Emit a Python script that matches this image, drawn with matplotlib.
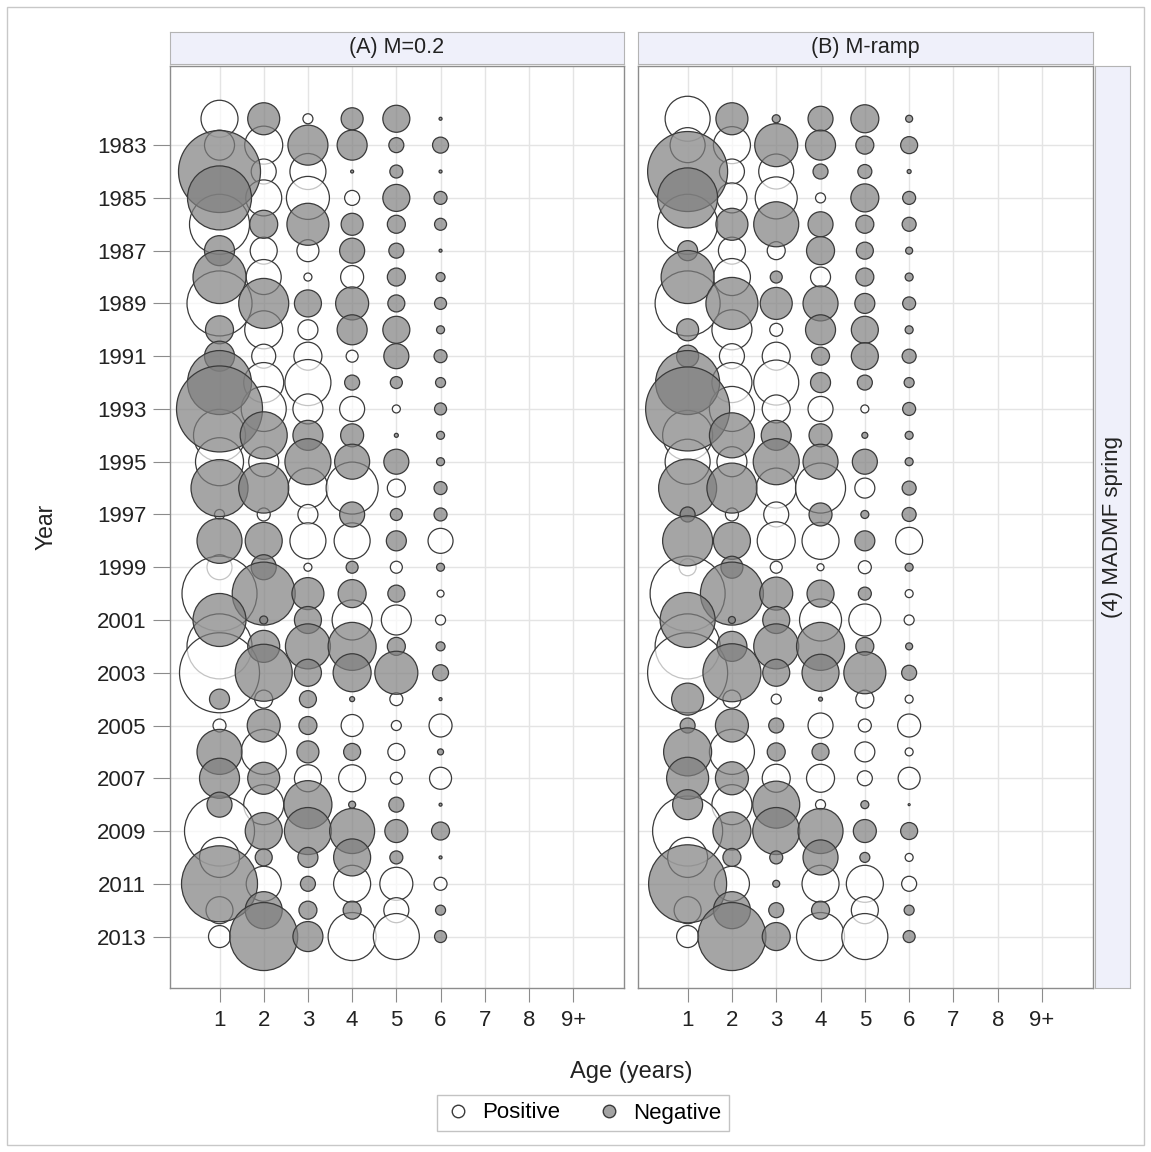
import matplotlib

matplotlib.use("Agg")
import matplotlib.pyplot as plt
import numpy as np
from matplotlib.lines import Line2D
from matplotlib.patches import Rectangle

plt.rcParams["font.family"] = ["Liberation Sans", "DejaVu Sans"]

years = list(range(1982, 2014))
ages = [1, 2, 3, 4, 5, 6]
age_ticks = [1, 2, 3, 4, 5, 6, 7, 8, 9]
age_labels = ["1", "2", "3", "4", "5", "6", "7", "8", "9+"]
year_ticks = list(range(1983, 2014, 2))

panel_titles = ["(A) M=0.2", "(B) M-ramp"]
row_title = "(4) MADMF spring"

# residuals by year (rows) and age 1..6 (columns); sign picks the fill
resid_a = [
    [1.85, -1.6, 0.5, -1.1, -1.35, -0.15],
    [1.5, 1.9, -2.0, -1.5, -0.75, -0.8],
    [-4.1, 1.25, 1.8, -0.15, -0.65, -0.15],
    [-3.2, 1.8, 2.15, 0.75, -1.35, -0.65],
    [3.0, -1.4, -2.1, -1.1, -0.9, -0.6],
    [-1.5, 1.35, 1.1, -1.25, -0.75, -0.15],
    [-2.65, 1.75, 0.4, 1.15, -0.9, -0.45],
    [3.25, -2.5, -1.35, -1.65, -0.85, -0.6],
    [-1.4, 1.9, 1.0, -1.5, -1.35, -0.4],
    [-1.5, 1.2, 1.4, 0.6, -1.25, -0.65],
    [-3.2, 2.0, 2.3, -0.75, -0.6, -0.5],
    [-4.3, 2.25, 1.5, 1.25, 0.4, -0.6],
    [2.6, -2.35, -1.5, -1.15, -0.2, -0.4],
    [2.4, 1.5, -2.3, -1.75, -1.25, -0.4],
    [-2.85, -2.5, 2.0, 2.6, 0.9, -0.65],
    [0.5, 0.65, 1.0, -1.25, -0.6, -0.65],
    [-2.25, -1.85, 1.8, 1.8, -1.0, 1.25],
    [1.25, -1.25, 0.4, -0.6, 0.6, -0.4],
    [3.75, -3.15, -1.6, -1.4, -0.85, 0.35],
    [-2.65, -0.4, -1.35, 2.0, 1.5, 0.5],
    [3.25, -1.6, -2.25, -2.4, -0.9, -0.45],
    [4.0, -2.85, -1.35, -1.9, -2.15, -0.8],
    [-1.0, 0.9, -0.85, -0.25, 0.65, -0.15],
    [0.65, -1.65, -0.9, 1.1, 0.5, 1.15],
    [-2.25, 2.25, -1.1, -0.85, 0.85, -0.3],
    [-2.0, -1.6, 1.35, 1.35, 0.6, 1.1],
    [-1.25, 2.0, -2.4, -0.35, -0.75, -0.15],
    [3.5, -1.85, -2.35, -2.25, -1.15, -0.9],
    [2.0, -0.85, -1.0, -1.85, -0.65, -0.15],
    [-3.8, 1.75, -0.75, 1.85, 1.65, 0.65],
    [1.35, -1.85, -0.9, -0.9, 1.25, -0.5],
    [1.1, -3.4, -1.5, 2.4, 2.3, -0.6],
]

resid_b = [
    [2.25, -1.6, -0.4, -1.25, -1.4, -0.35],
    [1.75, 1.85, -2.15, -1.5, -0.9, -0.85],
    [-4.0, 1.25, 1.75, -0.75, -0.7, -0.2],
    [-3.0, 1.5, 2.1, 0.5, -1.4, -0.65],
    [3.0, -1.6, -2.25, -1.25, -0.9, -0.7],
    [-1.0, 1.35, 0.9, -1.4, -0.85, -0.35],
    [-2.65, 1.85, -0.6, 1.0, -0.9, -0.4],
    [3.25, -2.6, -1.6, -1.75, -1.0, -0.65],
    [-1.1, 2.0, 0.65, -1.5, -1.35, -0.4],
    [-1.1, 1.25, 1.4, -0.9, -1.35, -0.7],
    [-3.2, 2.0, 2.25, -1.0, -0.75, -0.5],
    [-4.2, 2.25, 1.4, 1.25, 0.4, -0.65],
    [2.5, -2.25, -1.5, -1.15, -0.3, -0.4],
    [2.25, 1.5, -2.3, -1.75, -1.25, -0.4],
    [-2.9, -2.5, 2.0, 2.5, 1.0, -0.7],
    [-0.75, 0.65, 1.25, -1.15, -0.4, -0.7],
    [-2.5, -1.85, 1.9, 1.85, -1.0, 1.35],
    [0.85, -1.1, 0.6, 0.35, 0.65, -0.4],
    [3.75, -3.15, -1.65, -1.35, -0.65, 0.4],
    [-2.75, -0.35, -1.35, 2.1, 1.6, 0.5],
    [3.25, -1.5, -2.25, -2.4, -0.9, -0.35],
    [4.0, -2.9, -1.35, -1.85, -2.1, -0.75],
    [-1.6, 0.9, 0.5, -0.2, 0.9, 0.4],
    [-0.75, -1.65, -0.75, 1.25, 0.65, 1.15],
    [-2.4, 2.25, -0.9, -0.85, 1.0, 0.4],
    [-2.1, -1.65, 1.4, 1.4, 0.75, 1.1],
    [-1.5, 2.0, -2.35, 0.5, -0.4, 0.1],
    [3.5, -1.9, -2.35, -2.25, -1.15, -0.85],
    [2.0, -0.9, -0.65, -1.75, -0.5, 0.4],
    [-3.9, 1.75, -0.35, 1.85, 1.85, 0.75],
    [1.35, -1.85, -0.75, -0.9, 1.35, -0.5],
    [1.1, -3.4, -1.4, 2.4, 2.3, -0.6],
]

W, H = 1151, 1152
PX_PER_UNIT = 20.0  # bubble diameter in pixels per residual unit
EDGE = "#3a3a3a"
NEG_FILL = "#7f7f7f"
FRAME = "#8c8c8c"
STRIP_FILL = "#eff0fa"
STRIP_EDGE = "#b4b4b4"
GRID = "#e4e4e4"
FS = 16.0


def px_rect(x0, y0, x1, y1):
    return [x0 / W, 1 - y1 / H, (x1 - x0) / W, (y1 - y0) / H]


def bubbles(ax, resid):
    arr = np.array(resid)
    yy, xx = np.meshgrid(years, ages, indexing="ij")
    size = (np.abs(arr) * PX_PER_UNIT * 72 / 100) ** 2
    pos = arr > 0
    ax.scatter(xx[pos], yy[pos], s=size[pos], facecolor=(1, 1, 1, 0.7),
               edgecolor=EDGE, linewidth=0.9, zorder=3)
    neg = ~pos
    ax.scatter(xx[neg], yy[neg], s=size[neg], facecolor=matplotlib.colors.to_rgba(NEG_FILL, 0.7),
               edgecolor=EDGE, linewidth=0.9, zorder=4)


def style_panel(ax, show_y):
    ax.set_xlim(-0.12, 10.15)
    ax.set_ylim(2014.95, 1980.0)
    ax.set_xticks(age_ticks)
    ax.set_xticklabels(age_labels)
    ax.set_yticks(year_ticks)
    ax.set_yticklabels([str(y) for y in year_ticks] if show_y else [])
    ax.grid(True, color=GRID, lw=1.0, zorder=0)
    ax.set_axisbelow(True)
    for sp in ax.spines.values():
        sp.set_color(FRAME)
        sp.set_linewidth(1.0)
    ax.tick_params(axis="x", length=10, color=FRAME, labelsize=FS, labelcolor="#222222", pad=6)
    ax.tick_params(axis="y", length=12 if show_y else 0, color=FRAME, labelsize=FS,
                   labelcolor="#222222", pad=5)


fig = plt.figure(figsize=(W / 100, H / 100), dpi=100)
fig.patches.append(Rectangle((7 / W, 1 - 1145 / H), 1137 / W, 1138 / H, transform=fig.transFigure,
                             fill=False, edgecolor="#c8c8c8", lw=1.0))

panels = [(170, 624, resid_a, True), (638, 1093, resid_b, False)]
for (x0, x1, resid, show_y), title in zip(panels, panel_titles):
    ax = fig.add_axes(px_rect(x0, 66, x1, 988))
    style_panel(ax, show_y)
    bubbles(ax, resid)
    if show_y:
        ax.set_ylabel("Year", fontsize=FS + 0.5, color="#222222", labelpad=28)
    sx = fig.add_axes(px_rect(x0, 32, x1, 64))
    sx.set_facecolor(STRIP_FILL)
    sx.set_xticks([])
    sx.set_yticks([])
    for sp in sx.spines.values():
        sp.set_color(STRIP_EDGE)
    sx.text(0.5, 0.5, title, ha="center", va="center", fontsize=FS - 0.5, color="#222222",
            transform=sx.transAxes)

rx = fig.add_axes(px_rect(1095, 66, 1130, 988))
rx.set_facecolor(STRIP_FILL)
rx.set_xticks([])
rx.set_yticks([])
for sp in rx.spines.values():
    sp.set_color(STRIP_EDGE)
rx.text(0.5, 0.5, row_title, ha="center", va="center", rotation=90, fontsize=FS,
        color="#222222", transform=rx.transAxes)

fig.text(631 / W, 1 - 1072 / H, "Age (years)", ha="center", va="center", fontsize=FS + 1,
         color="#222222")

handles = [
    Line2D([], [], ls="none", marker="o", markersize=9, markerfacecolor="white",
           markeredgecolor=EDGE, markeredgewidth=1.0, label="Positive"),
    Line2D([], [], ls="none", marker="o", markersize=9, markerfacecolor="#a3a3a3",
           markeredgecolor=EDGE, markeredgewidth=1.0, label="Negative"),
]
leg = fig.legend(handles=handles, loc="center", bbox_to_anchor=(583 / W, 1 - 1113 / H), ncol=2,
                 fontsize=FS, frameon=True, fancybox=False, edgecolor="#b4b4b4",
                 handletextpad=0.5, columnspacing=1.6, borderpad=0.35, handlelength=1.2)
leg.get_frame().set_linewidth(1.0)

fig.savefig("out.png", dpi=100)
